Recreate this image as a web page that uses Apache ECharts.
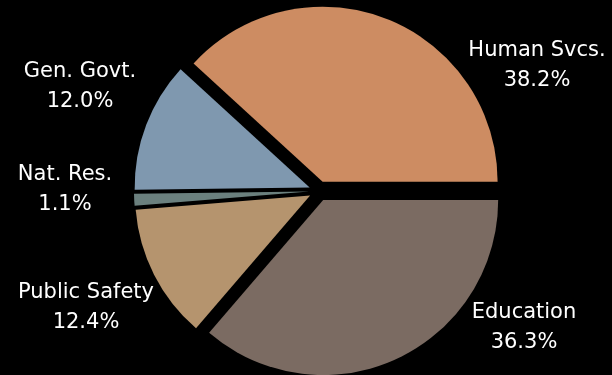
<!DOCTYPE html>
<html>
<head>
<meta charset="utf-8">
<script src="https://cdn.jsdelivr.net/npm/echarts@6/dist/echarts.min.js"></script>
<style>
html,body{margin:0;padding:0;background:#000;}
#chart{width:612px;height:375px;}
</style>
</head>
<body>
<div id="chart"></div>
<script>
// Data
var categories = ['Human Svcs.', 'Gen. Govt.', 'Nat. Res.', 'Public Safety', 'Education'];
var shares = [38.2, 12.0, 1.1, 12.4, 36.3];
var colors = ['#CD8C62', '#7F98AF', '#6B807E', '#B5946E', '#7B6B62'];
// Label anchor points (centre of the two-line label)
var labelPos = {
  'Human Svcs.': [537, 66],
  'Gen. Govt.': [80, 87],
  'Nat. Res.': [65, 190],
  'Public Safety': [86, 308],
  'Education': [524, 328]
};

var chart = echarts.init(document.getElementById('chart'), null, {renderer: 'canvas'});
var data = categories.map(function (c, i) {
  return { name: c, value: shares[i], selected: true, itemStyle: { color: colors[i] } };
});
var labels = categories.map(function (c, i) {
  return {
    type: 'text',
    x: labelPos[c][0],
    y: labelPos[c][1],
    silent: true,
    style: {
      text: c + '\n' + shares[i].toFixed(1) + '%',
      fill: '#ffffff',
      font: '21px "DejaVu Sans", sans-serif',
      align: 'center',
      verticalAlign: 'middle',
      lineHeight: 30
    }
  };
});
chart.setOption({
  backgroundColor: '#000',
  animation: false,
  graphic: { elements: labels },
  series: [{
    type: 'pie',
    center: [319, 191],
    radius: 175,
    startAngle: 0,
    clockwise: false,
    selectedMode: 'multiple',
    selectedOffset: 10,
    data: data,
    itemStyle: { borderWidth: 0 },
    emphasis: { disabled: true },
    select: { itemStyle: { borderWidth: 0 } },
    label: { show: false },
    labelLine: { show: false }
  }]
});
</script>
</body>
</html>
